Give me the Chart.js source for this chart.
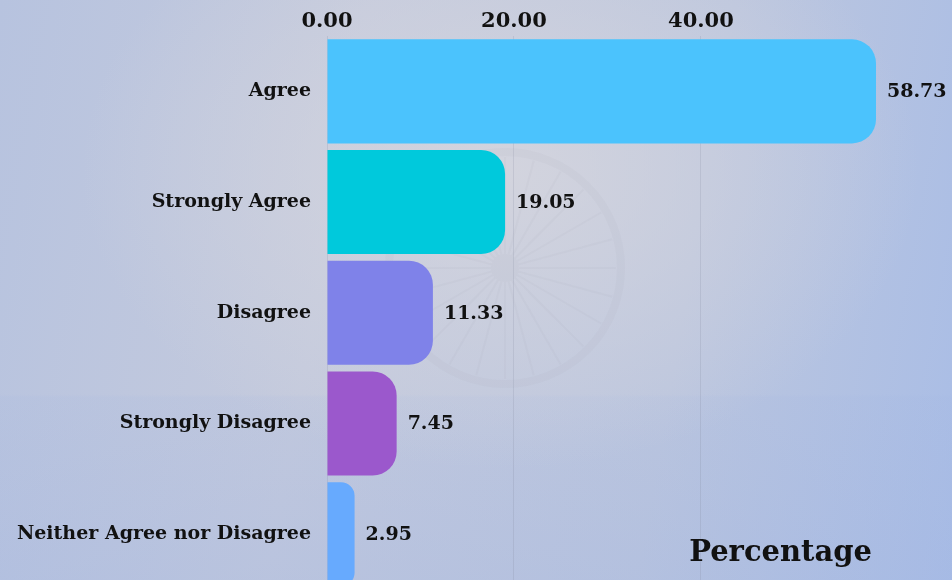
<!DOCTYPE html>
<html>
<head>
<meta charset="utf-8">
<script src="https://cdn.jsdelivr.net/npm/chart.js@4.4.0/dist/chart.umd.min.js"></script>
<style>
  html, body { margin: 0; padding: 0; width: 952px; height: 580px; overflow: hidden; }
  body {
    background:
      radial-gradient(ellipse 420px 300px at 500px 170px, rgba(214, 214, 222, 0.85), rgba(214, 214, 222, 0) 100%),
      linear-gradient(180deg, rgba(200, 205, 220, 0) 0%, rgba(200, 205, 220, 0) 68%, rgba(160, 180, 225, 0.12) 68.5%, rgba(160, 180, 225, 0.3) 100%),
      linear-gradient(100deg, #b7c3df 0%, #c4cadd 35%, #bcc6de 70%, #a9bde6 100%);
  }
  canvas { display: block; }
</style>
</head>
<body>
<canvas id="responses" width="952" height="617"></canvas>
<script>
var answers = ['Agree', 'Strongly Agree', 'Disagree', 'Strongly Disagree', 'Neither Agree nor Disagree'];
var percentages = [58.73, 19.05, 11.33, 7.45, 2.95];
var barColors = ['#4bc3fd', '#00c9dc', '#7f82e9', '#9b58cc', '#67aafe'];
var xTicks = [0, 20, 40];

var serif = "'DejaVu Serif', Georgia, serif";

// faint wheel drawn behind the bars
var wheel = {
    id: 'wheel',
    beforeDatasetsDraw: function(chart) {
        var ctx = chart.ctx;
        var cx = 505, cy = 268, r = 116;
        ctx.save();
        ctx.strokeStyle = 'rgba(150, 155, 175, 0.07)';
        ctx.lineWidth = 8;
        ctx.beginPath();
        ctx.arc(cx, cy, r, 0, Math.PI * 2);
        ctx.stroke();
        ctx.lineWidth = 2;
        for (var i = 0; i < 24; i++) {
            var a = i * Math.PI / 12;
            ctx.beginPath();
            ctx.moveTo(cx + Math.cos(a) * 14, cy + Math.sin(a) * 14);
            ctx.lineTo(cx + Math.cos(a) * (r - 5), cy + Math.sin(a) * (r - 5));
            ctx.stroke();
        }
        ctx.fillStyle = 'rgba(150, 155, 175, 0.07)';
        ctx.beginPath();
        ctx.arc(cx, cy, 14, 0, Math.PI * 2);
        ctx.fill();
        ctx.restore();
    }
};

// values at the end of each bar, plus the axis caption
var valueLabels = {
    id: 'valueLabels',
    afterDraw: function(chart) {
        var ctx = chart.ctx;
        ctx.save();
        ctx.fillStyle = '#111';
        ctx.font = 'bold 19px ' + serif;
        ctx.textAlign = 'left';
        ctx.textBaseline = 'middle';
        chart.getDatasetMeta(0).data.forEach(function(bar, i) {
            ctx.fillText(percentages[i].toFixed(2), bar.x + 11, bar.y + 1);
        });
        ctx.font = 'bold 29px ' + serif;
        ctx.textAlign = 'right';
        ctx.fillText('Percentage', 872, 553);
        ctx.restore();
    }
};

new Chart(document.getElementById('responses').getContext('2d'), {
    type: 'bar',
    data: {
        labels: answers,
        datasets: [{
            label: 'Percentage',
            data: percentages,
            backgroundColor: barColors,
            borderRadius: 24,
            borderSkipped: 'start',
            barPercentage: 0.94,
            categoryPercentage: 1
        }]
    },
    options: {
        indexAxis: 'y',
        responsive: false,
        animation: false,
        layout: { padding: { right: 76, bottom: 3 } },
        plugins: {
            legend: { display: false },
            tooltip: { enabled: false }
        },
        scales: {
            x: {
                position: 'top',
                min: 0,
                max: Math.max.apply(null, percentages),
                afterBuildTicks: function(scale) {
                    scale.ticks = xTicks.map(function(v) { return { value: v }; });
                },
                afterFit: function(scale) { scale.height = 36; },
                grid: { color: 'rgba(120, 130, 150, 0.18)', drawTicks: false },
                border: { display: false },
                ticks: {
                    padding: 2,
                    color: '#111',
                    font: { family: serif, weight: 'bold', size: 21 },
                    callback: function(v) { return Number(v).toFixed(2); }
                }
            },
            y: {
                afterFit: function(scale) { scale.width = 327; },
                grid: { display: false, drawTicks: false },
                border: { display: false },
                ticks: {
                    padding: 16,
                    color: '#111',
                    font: { family: serif, weight: 'bold', size: 19 }
                }
            }
        }
    },
    plugins: [wheel, valueLabels]
});
</script>
</body>
</html>
